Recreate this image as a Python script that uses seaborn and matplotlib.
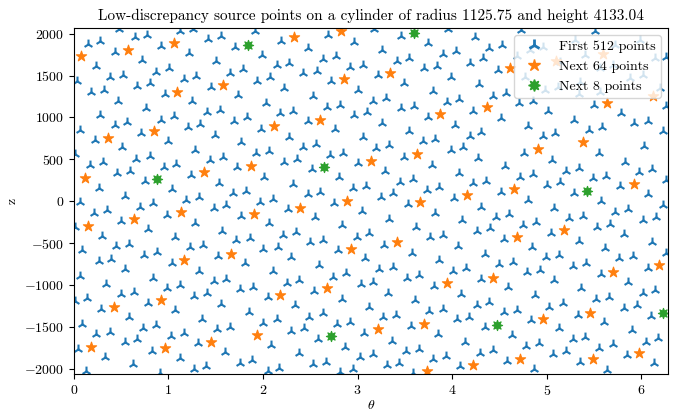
import numpy as np
import matplotlib
matplotlib.use("Agg")
import matplotlib.pyplot as plt
from matplotlib.lines import Line2D
import seaborn as sns

radius = 1125.75
height = 4133.04

# first 512 points (theta, z)
theta_first = [
    0.475, 1.120, 1.260, 1.912, 0.151, 0.281, 0.644, 0.774, 0.926, 1.419, 1.553, 1.701, 1.990, 0.440, 0.722,
    1.215, 1.500, 0.239, 0.873, 1.007, 1.655, 1.785, 0.035, 0.387, 0.521, 1.165, 1.296, 1.940, 2.070, 0.672,
    0.803, 1.454, 0.186, 0.316, 0.961, 1.736, 0.468, 1.253, 2.035, 0.767, 1.408, 1.542, 0.274, 0.919, 1.056,
    1.694, 1.831, 0.433, 0.567, 1.208, 1.338, 0.070, 1.983, 0.715, 1.489, 0.221, 0.996, 1.771,
    2.191, 2.684, 3.177, 3.458, 3.952, 2.965, 3.747, 2.479, 3.254, 4.040, 3.899, 2.638, 2.772, 2.145, 2.279,
    2.920, 3.061, 3.413, 3.547, 3.698, 3.835, 2.427, 2.568, 3.212, 3.987, 2.719, 3.494, 2.226, 3.008, 3.793,
    2.525, 3.300, 4.075, 3.159, 2.814, 2.677, 3.941, 2.184, 2.321, 2.965, 3.099, 3.458, 3.592, 3.747, 2.472,
    3.254, 4.029, 2.761, 3.539, 2.272, 3.054, 3.688, 3.821,
    4.727, 4.244, 4.392, 4.526, 4.188, 4.322, 4.681, 4.480, 6.259, 4.279, 4.434, 4.568, 4.223, 4.709, 4.850,
    5.008, 5.343, 5.502, 6.259, 5.783, 4.515, 5.290, 5.924, 6.065, 4.797, 5.449, 5.583, 4.188, 4.304, 4.956,
    5.089, 6.224, 5.509, 4.823, 4.960, 5.298, 5.720, 5.985, 5.140, 5.562, 5.700, 6.143, 4.771, 5.352, 5.880,
    6.017, 4.981, 5.118, 5.562, 6.196, 5.403,
    0.510, 1.278, 0.017, 0.662, 0.802, 0.169, 0.310, 0.954, 1.084, 1.444, 1.577, 1.930, 2.064, 0.461, 0.598,
    1.729, 0.757, 1.243, 2.011, 0.264, 1.042, 1.532, 1.683, 1.824, 0.545, 1.190, 1.324, 0.063, 0.697, 0.838,
    1.482, 1.613, 1.965, 0.214, 0.352, 0.989, 1.764, 0.010, 0.503, 1.278, 0.785, 1.567, 0.299, 1.074, 1.718,
    1.859, 0.450, 0.584, 1.225, 1.366, 0.088, 2.000, 0.743, 0.884, 1.525,
    2.420, 2.561, 3.194, 3.335, 3.987, 4.110, 2.226, 2.356, 2.708, 2.849, 3.001, 3.494, 3.786, 2.515, 3.290,
    4.068, 2.800, 3.448, 3.582, 2.314, 2.955, 3.089, 3.733, 3.864, 2.472, 2.603, 2.110, 3.247, 3.378, 4.022,
    2.754, 3.536, 2.261, 3.043, 3.821, 2.553, 3.328, 4.103, 2.060, 2.835, 3.617, 2.215, 2.349, 2.990, 3.124,
    3.765, 3.906, 2.497, 2.638, 3.282, 4.057, 2.155, 2.789, 3.571, 2.296, 3.082,
    6.030, 4.269, 4.762, 5.054, 5.547, 5.829, 4.561, 5.202, 5.343, 5.977, 6.111, 4.716, 4.850, 5.491, 5.625,
    4.223, 4.357, 5.001, 5.139, 5.776, 6.259, 4.515, 5.290, 6.065, 4.797, 5.572, 4.304, 5.079, 6.224, 5.723,
    5.861, 4.463, 4.596, 5.237, 5.378, 6.012, 6.153, 4.744, 4.885, 5.526, 5.667, 4.258, 4.399, 5.044, 5.818,
    4.551, 5.336, 6.111, 4.843, 5.618, 6.259, 4.350, 4.991, 5.125, 5.766, 5.907,
    0.264, 0.398, 1.039, 1.813, 0.545, 0.063, 1.320, 0.838, 1.479, 1.613, 0.345, 0.986, 1.120, 1.761, 1.894,
    0.496, 0.634, 1.271, 1.408, 0.010, 0.144, 0.785, 1.560, 2.053, 0.292, 1.067, 1.849, 0.581, 1.356, 0.088,
    0.732, 0.873, 1.518, 1.655, 2.000, 0.239, 0.380, 1.032, 1.165, 0.538, 0.672, 1.313, 0.046, 0.827, 1.602,
    0.334, 1.120, 1.754, 1.887, 0.627, 1.268, 1.402, 0.134, 0.908, 2.053,
    3.856, 2.596, 2.103, 2.744, 2.878, 3.230, 3.370, 3.518, 3.652, 4.011, 4.145, 2.250, 2.384, 3.036, 3.166,
    3.811, 2.543, 3.318, 4.093, 2.835, 3.610, 2.342, 3.117, 3.758, 3.899, 2.490, 2.631, 3.272, 3.406, 4.047,
    2.145, 2.782, 2.920, 3.564, 2.296, 2.430, 3.071, 3.846, 2.585, 3.363, 4.138, 2.085, 2.870, 3.511, 3.652,
    2.377, 3.025, 3.159, 3.793, 3.934, 2.525, 2.666, 3.307, 3.441, 4.082, 2.173, 2.814, 2.955, 3.589,
    4.498, 4.639, 5.280, 5.413, 4.790, 4.927, 5.572, 6.065, 4.304, 5.079, 5.854, 4.586, 5.361, 4.875, 5.519,
    5.660, 6.012, 6.146, 4.258, 4.385, 5.026, 5.167, 5.818, 5.949, 4.551, 4.684, 4.181, 4.832, 5.325, 5.607,
    6.100, 4.346, 5.125, 5.899, 4.632, 5.273, 5.406, 6.047, 6.181, 4.780, 4.920, 5.554, 5.695, 4.293, 4.427,
    5.068, 5.202, 5.847, 4.579, 5.354, 6.135, 4.867, 5.642,
]
z_first = [
    2060, 2034, 2060, 2027, 1876, 1907, 1955, 1983, 1856, 1935, 1971, 1836, 1744, 1776, 1685,
    1764, 1669, 1609, 1545, 1589, 1529, 1577, 1430, 1478, 1510, 1458, 1490, 1430, 1478, 1378,
    1406, 1358, 1299, 1331, 1279, 1267, 1199, 1191, 1171, 1108, 1060, 1092, 1032, 972, 1016,
    960, 1000, 909, 941, 881, 921, 849, 861, 813, 789, 734, 714, 702,
    1915, 1987, 2060, 1975, 2055, 1895, 1887, 1824, 1804, 1796, 1756, 1700, 1728, 1621, 1649,
    1597, 1629, 1677, 1708, 1589, 1617, 1526, 1557, 1510, 1486, 1430, 1410, 1346, 1327, 1319,
    1251, 1231, 1219, 1199, 1152, 1128, 1179, 1048, 1076, 1032, 1060, 1108, 1140, 1008, 953,
    933, 913, 861, 841, 770, 762, 714, 742,
    2042, 1955, 1828, 1868, 1645, 1704, 1736, 1569, 1716, 1398, 1259, 1291, 1072, 1167, 1199,
    1072, 1279, 1148, 1140, 1048, 988, 973, 929, 961, 893, 849, 881, 782, 821, 782,
    809, 833, 2034, 1803, 1839, 1923, 1863, 1923, 1661, 1588, 1624, 1708, 1482, 1422, 1470,
    1506, 1327, 1363, 1303, 1351, 1744,
    642, 610, 563, 503, 539, 431, 463, 412, 443, 491, 523, 571, 599, 332, 364,
    404, 241, 312, 292, 153, 141, 213, 93, 125, 62, 14, 46, -6, -66, -26,
    -86, -46, -6, -137, -106, -165, -177, -313, -233, -257, -336, -352, -416, -432, -464,
    -444, -535, -511, -551, -523, -583, -575, -642, -603, -651,
    650, 682, 630, 670, 610, 650, 471, 503, 551, 579, 451, 531, 432, 380, 360,
    340, 284, 225, 261, 201, 153, 185, 133, 165, 81, 105, 22, 53, 93, 34,
    -18, -34, -98, -118, -137, -193, -213, -225, -265, -285, -313, -404, -364, -424, -384,
    -432, -404, -483, -464, -523, -535, -543, -583, -623, -662, -682,
    658, 511, 579, 491, 579, 471, 420, 364, 392, 344, 380, 292, 324, 272, 304,
    213, 245, 193, 225, 181, 253, 105, 101, 85, 14, 6, -66, -86, -46, -125,
    -94, -185, -153, -205, -177, -225, -193, -285, -253, -305, -273, -352, -324, -376, -396,
    -456, -471, -483, -551, -563, -615, -631, -662, -642, -682, -654,
    -714, -686, -734, -742, -806, -893, -834, -913, -953, -925, -993, -1032, -1005, -1052, -1025,
    -1112, -1080, -1132, -1100, -1192, -1160, -1212, -1231, -1140, -1291, -1299, -1319, -1382, -1402, -1470,
    -1510, -1478, -1530, -1498, -1450, -1589, -1561, -1609, -1577, -1681, -1649, -1697, -1760, -1788, -1796,
    -1856, -1868, -1927, -1896, -1947, -2007, -1967, -2027, -2047, -2027,
    -702, -766, -834, -901, -861, -814, -786, -913, -881, -834, -802, -973, -941, -993, -961,
    -1013, -1072, -1092, -1112, -1164, -1184, -1243, -1263, -1311, -1283, -1378, -1339, -1382, -1358, -1402,
    -1410, -1470, -1438, -1490, -1549, -1510, -1569, -1589, -1649, -1669, -1681, -1721, -1737, -1788, -1760,
    -1816, -1856, -1828, -1888, -1848, -1947, -1915, -1959, -1927, -1967, -1987, -2039, -2007, -2047,
    -754, -722, -774, -742, -846, -822, -873, -794, -933, -945, -965, -1025, -1041, -1120, -1172,
    -1140, -1100, -1064, -1243, -1203, -1259, -1219, -1271, -1239, -1323, -1299, -1378, -1422, -1359, -1442,
    -1371, -1498, -1518, -1538, -1597, -1649, -1617, -1677, -1637, -1729, -1697, -1749, -1709, -1808, -1776,
    -1828, -1788, -1840, -1908, -1919, -1935, -1999, -2019,
]

# next 64 points
theta_next64 = [
    0.081, 0.574, 1.060, 1.577, 1.095, 0.848, 0.362,
    2.332, 2.825, 3.342, 2.853, 3.871, 2.120, 2.606,
    4.610, 4.364, 5.632, 6.125, 5.590, 5.096, 5.378,
    0.116, 0.637, 1.130, 1.377, 1.870, 1.905, 0.151, 1.658,
    3.142, 3.624, 2.888, 3.663, 4.156, 2.395, 3.416, 2.930,
    4.903, 5.917, 4.649, 5.177, 4.684,
    1.165, 0.919, 0.426, 1.447, 0.961, 1.940, 0.179,
    2.184, 2.677, 3.945, 3.212, 3.698, 3.730,
    4.434, 5.695, 6.188, 4.963, 5.456, 4.716, 5.491, 5.977, 4.223,
]
z_next64 = [
    1728, 1808, 1883, 1390, 1307, 841, 754,
    1955, 2027, 1529, 1458, 1040, 901, 972,
    1585, 1120, 1171, 1251, 1756, 1677, 702,
    280, -213, -133, 344, 424, -153, -297, -630,
    483, 563, 6, -6, 73, -78, -483, -571,
    618, 201, 141, -344, -432,
    -702, -1184, -1259, -1681, -1756, -1597, -1737,
    -1124, -1041, -981, -1530, -1462, -2027,
    -913, -846, -766, -1402, -1331, -1880, -1888, -1808, -1955,
]

# next 8 points
theta_next8 = [1.842, 3.599, 0.884, 2.648, 5.424, 2.719, 4.473, 6.231]
z_next8 = [1868, 2003, 264, 404, 125, -1609, -1478, -1339]

labels = ["First 512 points", "Next 64 points", "Next 8 points"]

plt.rcParams["font.family"] = "serif"
plt.rcParams["font.serif"] = ["cmr10"]
plt.rcParams["mathtext.fontset"] = "cm"
plt.rcParams["axes.formatter.use_mathtext"] = True

fig, ax = plt.subplots(figsize=(6.86, 4.13), dpi=100)
fig.subplots_adjust(left=0.1074, right=0.974, bottom=0.0937, top=0.932)

sns.scatterplot(x=theta_first, y=z_first, ax=ax, marker="2", color="C0",
                s=50, linewidth=1.5)
sns.scatterplot(x=theta_next64, y=z_next64, ax=ax, marker="*", color="C1",
                edgecolor="C1", s=60, linewidth=0.8)
sns.scatterplot(x=theta_next8, y=z_next8, ax=ax, marker=(8, 1, 0), color="C2",
                edgecolor="C2", s=55, linewidth=0.8)

ax.set_xlim(0, 2 * np.pi)
ax.set_ylim(-height / 2, height / 2)
ax.set_xlabel(r"$\theta$", labelpad=1)
ax.set_ylabel("z")
ax.set_title("Low-discrepancy source points on a cylinder of radius %.2f and height %.2f" % (radius, height),
             fontsize=11)

handles = [
    Line2D([], [], ls="", marker="2", color="C0", mec="C0", ms=9, mew=2),
    Line2D([], [], ls="", marker="*", color="C1", ms=9),
    Line2D([], [], ls="", marker=(8, 1, 0), color="C2", ms=8.5),
]
ax.legend(handles, labels, loc="upper right")

fig.savefig("out.png", dpi=100)
